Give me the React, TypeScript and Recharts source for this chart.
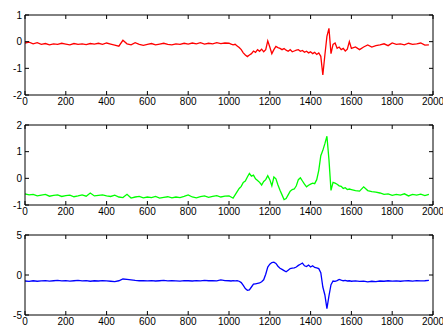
import React from 'react';
import { LineChart, Line, XAxis, YAxis } from 'recharts';

// sample positions: coarse on the flat parts, finer where the signals move fast
const xs = [
  0, 20, 40, 60, 80, 100, 120, 140, 160, 180, 200, 220, 240, 260, 280, 300, 320, 340, 360, 380,
  400, 420, 440, 460, 480, 500, 520, 540, 560, 580, 600, 620, 640, 660, 680, 700, 720, 740, 760, 780,
  800, 820, 840, 860, 880, 900, 920, 940, 960, 980,
  1000, 1010, 1020, 1030, 1040, 1050, 1060, 1070, 1080, 1090, 1100, 1110, 1120, 1130, 1140, 1150,
  1160, 1170, 1180, 1190, 1200, 1210, 1220, 1230, 1240, 1250, 1260, 1270, 1280, 1290, 1300, 1310,
  1320, 1330, 1340, 1350, 1360, 1370, 1380, 1390, 1400, 1410, 1420, 1430, 1440, 1450, 1460, 1470,
  1480, 1490, 1500, 1510, 1520, 1530, 1540, 1550, 1560, 1570, 1580, 1590,
  1600, 1620, 1640, 1660, 1680, 1700, 1720, 1740, 1760, 1780, 1800, 1820, 1840, 1860, 1880, 1900,
  1920, 1940, 1960, 1980,
];

const red = [
  -0.05, -0.02, -0.08, -0.04, -0.1, -0.07, -0.12, -0.08, -0.1, -0.06,
  -0.09, -0.12, -0.07, -0.1, -0.08, -0.11, -0.07, -0.09, -0.06, -0.1,
  -0.05, -0.09, -0.13, -0.17, 0.05, -0.08, -0.12, -0.04, -0.1, -0.14,
  -0.1, -0.07, -0.12, -0.09, -0.06, -0.1, -0.12, -0.08, -0.1, -0.06,
  -0.09, -0.05, -0.08, -0.04, -0.09, -0.06, -0.08, -0.04, -0.07, -0.05,
  -0.06, -0.09, -0.12, -0.1, -0.16, -0.22, -0.3, -0.42, -0.5, -0.56,
  -0.5, -0.45, -0.35, -0.4, -0.3, -0.36, -0.28, -0.38, -0.3, 0.03,
  -0.2, -0.45, -0.3, -0.18, -0.22, -0.25, -0.3, -0.26, -0.32, -0.36,
  -0.3, -0.38, -0.35, -0.32, -0.3, -0.36, -0.33, -0.4, -0.36, -0.42,
  -0.38, -0.45, -0.4, -0.48, -0.42, -0.55, -1.25, -0.5, 0.2, 0.5,
  -0.45, -0.1, -0.05, -0.25, -0.2, -0.3, -0.25, -0.35, -0.28, 0.0,
  -0.25, -0.2, -0.3, -0.2, -0.12, -0.2, -0.15, -0.12, -0.08, -0.15,
  -0.05, -0.1, -0.08, -0.12, -0.06, -0.1, -0.08, -0.05, -0.13, -0.12,
];

const green = [
  -0.58, -0.62, -0.6, -0.66, -0.63, -0.6, -0.67, -0.64, -0.62, -0.68,
  -0.65, -0.63, -0.69, -0.66, -0.62, -0.67, -0.55, -0.66, -0.64, -0.62,
  -0.66, -0.68, -0.63, -0.7, -0.72, -0.6, -0.74, -0.7, -0.68, -0.73,
  -0.7, -0.72, -0.68, -0.74, -0.71, -0.69, -0.73, -0.7, -0.72, -0.68,
  -0.62, -0.7, -0.73, -0.69, -0.66, -0.71, -0.68, -0.65, -0.7, -0.67,
  -0.66, -0.7, -0.74, -0.62, -0.5, -0.38, -0.3, -0.15, -0.1, 0.05,
  0.18, 0.08, 0.12, -0.02, -0.08, -0.15, -0.25, -0.12, -0.05, 0.1,
  -0.05, -0.28, 0.05, -0.02, -0.25, -0.45, -0.62, -0.8, -0.76, -0.62,
  -0.48, -0.42, -0.4, -0.28, -0.05, 0.02, -0.1, -0.22, -0.32, -0.26,
  -0.22, -0.18, -0.2, -0.05, 0.3, 0.85, 1.05, 1.3, 1.58, 0.7,
  -0.45, -0.15, -0.18, -0.22, -0.28, -0.3, -0.38, -0.35, -0.42, -0.4,
  -0.42, -0.46, -0.48, -0.32, -0.46, -0.5, -0.52, -0.55, -0.6, -0.58,
  -0.64, -0.6, -0.63, -0.58, -0.66, -0.6, -0.63, -0.59, -0.65, -0.6,
];

const blue = [
  -0.75, -0.8, -0.72, -0.78, -0.74, -0.7, -0.76, -0.72, -0.68, -0.74,
  -0.7, -0.76, -0.72, -0.68, -0.74, -0.7, -0.78, -0.72, -0.75, -0.7,
  -0.74, -0.78, -0.82, -0.72, -0.5, -0.55, -0.62, -0.68, -0.72, -0.7,
  -0.74, -0.7, -0.75, -0.72, -0.68, -0.74, -0.7, -0.73, -0.76, -0.7,
  -0.72, -0.75, -0.7, -0.73, -0.68, -0.72, -0.7, -0.74, -0.62, -0.7,
  -0.72, -0.75, -0.7, -0.74, -0.72, -0.78, -0.95, -1.3, -1.7, -1.9,
  -1.85, -1.5, -1.15, -1.1, -1.05, -1.0, -0.85, -0.6, 0.1, 1.0,
  1.35, 1.55, 1.6, 1.45, 1.1, 0.85, 0.7, 0.55, 0.4, 0.6,
  0.8, 0.85, 0.9, 1.0, 1.2, 1.35, 1.5, 1.15, 1.05, 1.25,
  1.0, 1.15, 0.95, 0.9, 0.8, 0.3, -1.5, -2.5, -4.2, -2.6,
  -1.2, -0.75, -0.8, -0.7, -0.55, -0.65, -0.72, -0.68, -0.75, -0.72,
  -0.78, -0.74, -0.8, -0.76, -0.85, -0.78, -0.82, -0.75, -0.78, -0.72,
  -0.76, -0.73, -0.78, -0.74, -0.72, -0.76, -0.7, -0.74, -0.72, -0.68,
];

const xTicks = [0, 200, 400, 600, 800, 1000, 1200, 1400, 1600, 1800, 2000];
const redTicks = [-2, -1, 0, 1];
const greenTicks = [-1, 0, 1, 2];
const blueTicks = [-5, 0, 5];

const data = xs.map((x, i) => ({ x, red: red[i], green: green[i], blue: blue[i] }));

const GAP = 3;
const TL = 4;
const font = { fontFamily: '"Liberation Sans", Arial, sans-serif', fontSize: 10 };

const BottomTick = (p: any) => (
  <g>
    <line x1={p.x} x2={p.x} y1={p.y - GAP} y2={p.y - GAP - TL} stroke="#000" />
    <text x={p.x} y={p.y} dy="0.71em" textAnchor="middle" fill="#000" {...font}>
      {p.payload.value}
    </text>
  </g>
);

const TopTick = (p: any) => (
  <line x1={p.x} x2={p.x} y1={p.y + GAP} y2={p.y + GAP + TL} stroke="#000" />
);

const LeftTick = (p: any) => (
  <g>
    <line x1={p.x + GAP} x2={p.x + GAP + TL} y1={p.y} y2={p.y} stroke="#000" />
    <text x={p.x} y={p.y} dy="0.35em" textAnchor="end" fill="#000" {...font}>
      {p.payload.value}
    </text>
  </g>
);

const RightTick = (p: any) => (
  <line x1={p.x - GAP} x2={p.x - GAP - TL} y1={p.y} y2={p.y} stroke="#000" />
);

function Panel({ dataKey, color, domain, ticks, top }: any) {
  return (
    <div style={{ position: 'absolute', left: 0, top }}>
      <LineChart width={443} height={110} data={data} margin={{ top: 0, right: 0, bottom: 0, left: 0 }}>
        <XAxis
          dataKey="x"
          type="number"
          domain={[0, 2000]}
          ticks={xTicks}
          interval={0}
          height={15}
          tickSize={0}
          tickMargin={GAP}
          tick={BottomTick}
          axisLine={{ stroke: '#000' }}
        />
        <XAxis
          xAxisId="top"
          orientation="top"
          dataKey="x"
          type="number"
          domain={[0, 2000]}
          ticks={xTicks}
          interval={0}
          height={15}
          tickSize={0}
          tickMargin={GAP}
          tick={TopTick}
          axisLine={{ stroke: '#000' }}
        />
        <YAxis
          type="number"
          domain={domain}
          ticks={ticks}
          interval={0}
          width={25}
          tickSize={0}
          tickMargin={GAP}
          tick={LeftTick}
          allowDataOverflow
          axisLine={{ stroke: '#000' }}
        />
        <YAxis
          yAxisId="right"
          orientation="right"
          type="number"
          domain={domain}
          ticks={ticks}
          interval={0}
          width={10}
          tickSize={0}
          tickMargin={GAP}
          tick={RightTick}
          allowDataOverflow
          axisLine={{ stroke: '#000' }}
        />
        <Line
          type="linear"
          dataKey={dataKey}
          stroke={color}
          strokeWidth={1.3}
          dot={false}
          isAnimationActive={false}
        />
      </LineChart>
    </div>
  );
}

export default function App() {
  return (
    <div style={{ position: 'absolute', left: 0, top: 0, width: 443, height: 332, background: '#fff' }}>
      <Panel dataKey="red" color="#ff0000" domain={[-2, 1]} ticks={redTicks} top={0} />
      <Panel dataKey="green" color="#00ff00" domain={[-1, 2]} ticks={greenTicks} top={110} />
      <Panel dataKey="blue" color="#0000ff" domain={[-5, 5]} ticks={blueTicks} top={220} />
    </div>
  );
}
